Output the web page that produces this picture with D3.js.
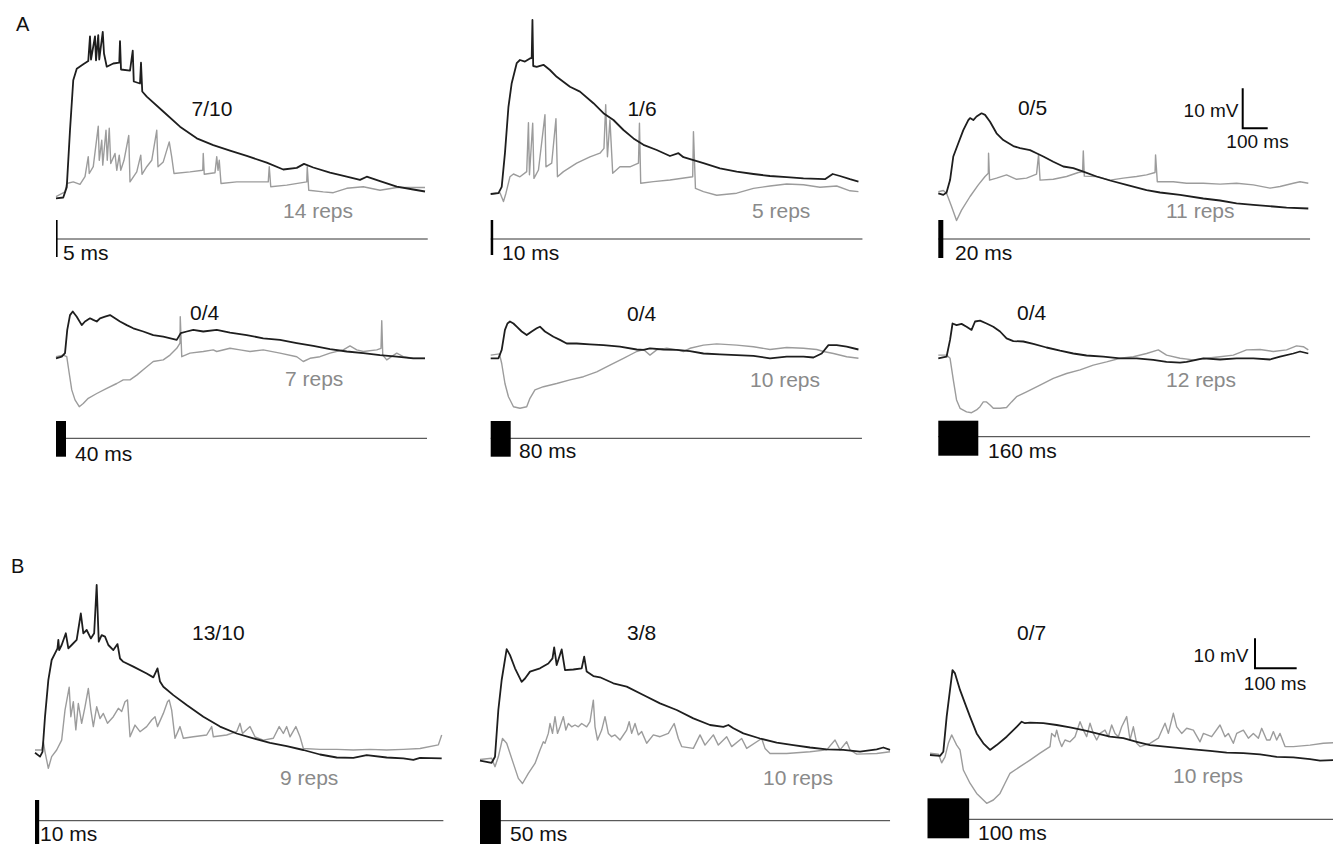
<!DOCTYPE html>
<html>
<head>
<meta charset="utf-8">
<script src="https://cdn.jsdelivr.net/npm/d3@7"></script>
<style>
body { margin: 0; background: #fff; }
svg { display: block; font-family: "Liberation Sans", Arial, Helvetica, sans-serif; }
</style>
</head>
<body>
<div id="container"></div>
<script>
"use strict";

const width = 1333;
const height = 844;

// traces: [time in ms from stimulus onset, mV relative to baseline]
const a1Black = [[0,0],[29,0.2],[43,2.8],[56,17],[69,29.5],[83,32.4],[109,33.5],[129,34.3],[136,40.5],[140,34.7],[156,40.5],[160,34.5],[169,40.8],[173,34.7],[187,41.6],[192,36.2],[203,32.9],[229,33.7],[253,33.9],[256,39.3],[260,32.2],[296,31.9],[307,36.9],[311,29.2],[336,28.7],[340,33.9],[345,26.7],[363,25.4],[429,21.7],[496,17.9],[563,15],[629,13.3],[696,11.9],[763,10.6],[843,8.9],[909,7.2],[963,7.6],[992,8.6],[1029,7.7],[1096,6.4],[1163,5.4],[1216,4.6],[1243,5.4],[1296,4.3],[1363,2.9],[1429,2.2],[1476,1.7]];
const a1Gray = [[0,0.4],[36,1.6],[43,3.7],[69,4.1],[96,3.5],[116,5.4],[129,10.4],[133,6.2],[149,7.9],[169,18],[173,9.5],[183,14.5],[187,8.3],[200,17],[205,9.5],[213,17.5],[219,8.7],[236,11.2],[243,7],[253,10.8],[259,7],[272,9.5],[291,15.7],[296,4.1],[323,6.6],[339,10.8],[344,6],[363,7.9],[383,9.5],[403,17],[408,7.9],[429,9.1],[453,14.1],[463,10.3],[472,6.2],[536,6.6],[587,7],[589,11.2],[593,6],[636,6.4],[643,10.4],[648,7],[653,9.5],[660,3.7],[723,4.1],[849,4.1],[853,7.9],[859,2.9],[923,3.3],[1003,4.1],[1005,7.9],[1011,2],[1069,1.6],[1109,1.4],[1163,2.5],[1229,2.9],[1296,2],[1363,2.7],[1476,2.7]];

const a2Black = [[0,0],[31,0.2],[44,1.8],[57,10.2],[71,21.8],[84,27.7],[104,32.7],[117,33.5],[137,33.1],[157,33.9],[164,34],[167,43.5],[170,32],[184,31.8],[211,32.3],[237,31],[264,29.3],[317,26.8],[357,25.6],[411,22.7],[451,20.2],[491,18.5],[531,16],[571,13.9],[611,12.3],[664,11],[717,9.5],[751,10.2],[771,9.2],[851,7.7],[917,6.4],[984,5.6],[1051,5],[1117,4.5],[1184,4.2],[1251,3.9],[1337,3.7],[1368,5],[1397,4.5],[1437,3.7],[1471,3.1]];
const a2Gray = [[0,0],[37,0.3],[51,-1.9],[61,0.2],[77,4.3],[91,5],[117,4.3],[144,5.6],[151,17.8],[155,4.8],[168,17.7],[173,3.9],[191,6],[217,19.8],[221,6.8],[244,7.7],[261,18.8],[267,4.3],[291,5.6],[344,7.7],[397,9.3],[437,10.2],[453,11.4],[460,22.3],[467,9.3],[477,18.5],[488,5.2],[517,6.8],[557,6.8],[591,7.7],[595,17.7],[600,2.7],[651,3.1],[717,3.5],[808,4.3],[811,15.6],[819,1.4],[851,0.6],[904,-0.3],[984,0.2],[1051,1.4],[1117,2],[1184,2.5],[1251,2.3],[1317,1.7],[1384,2],[1437,0.8],[1471,0.6]];

const a3Black = [[0,0],[20,-0.4],[33,0.2],[47,3.3],[60,9.2],[80,12.5],[100,15.8],[120,18.3],[127,18.8],[140,18.3],[153,19.2],[173,20],[187,19.6],[207,17.9],[233,15],[260,13.3],[300,11.8],[327,11.3],[367,10.8],[393,10],[420,9.2],[460,7.9],[500,6.7],[540,6.3],[580,5.4],[633,4.2],[687,3.2],[753,2.1],[833,0.8],[887,0.2],[967,-0.4],[1060,-1.3],[1127,-1.8],[1193,-2.5],[1260,-2.9],[1340,-3.3],[1393,-3.6],[1480,-3.8]];
const a3Gray = [[0,0.4],[20,0.7],[33,0],[53,-3.3],[73,-6.8],[93,-4.2],[127,-0.8],[160,2.1],[187,4.2],[200,5],[201,10],[205,3.3],[233,3.8],[273,4.6],[313,3.5],[353,3.8],[393,4.8],[401,9.6],[407,3.3],[460,3.5],[513,4.2],[560,5.2],[577,5.4],[580,10.6],[584,4.3],[633,4.2],[687,3.3],[740,3.8],[793,4.2],[833,4.6],[867,5.2],[869,9.6],[876,2.9],[940,2.9],[993,2.5],[1060,2.5],[1127,2.3],[1193,2.5],[1260,2.1],[1327,1.3],[1367,1.7],[1420,2.5],[1447,2.9],[1480,2.5]];

const a4Black = [[0,0],[23,0.4],[36,1.3],[45,7.1],[56,10.8],[67,11.7],[83,10.4],[103,8.3],[116,9.2],[136,10],[149,9.6],[163,9.2],[176,10],[196,10.4],[216,10.8],[236,10],[256,9.2],[283,8.3],[309,7.5],[349,6.7],[389,5.8],[429,5.4],[483,4.6],[499,6.3],[523,6.7],[549,7.1],[589,6.7],[643,7.1],[696,6.4],[763,5.8],[829,5],[896,4.6],[963,3.8],[1029,3.1],[1096,2.3],[1163,1.7],[1229,1.3],[1296,0.8],[1363,0.4],[1429,0],[1476,0]];
const a4Gray = [[0,0.4],[29,0.8],[43,0.4],[53,-3.8],[63,-7.9],[76,-10.4],[93,-12.1],[109,-11.3],[129,-10],[163,-8.8],[203,-7.5],[243,-6.3],[269,-5.4],[296,-5.4],[323,-4.2],[356,-2.5],[389,-0.8],[429,-0.4],[456,0.8],[483,2.5],[496,3.8],[497,10.4],[503,0.4],[536,1.3],[589,1.7],[629,2.1],[643,1.7],[696,2.5],[736,2.1],[776,1.7],[829,2.1],[896,1.3],[963,0.4],[989,-0.8],[1016,0],[1056,0.4],[1096,1.3],[1149,2.1],[1176,3.1],[1203,2.1],[1229,1.7],[1283,2.1],[1300,2.5],[1303,9.4],[1307,0.8],[1323,-0.4],[1363,1.3],[1389,0.4],[1429,0],[1476,0]];

const a5Black = [[0,-0.4],[31,-0.4],[44,1.7],[57,6.7],[67,8.3],[77,8.8],[91,8.3],[104,7.5],[124,6.3],[144,5.4],[164,6.3],[184,7.1],[197,7.5],[217,6.3],[251,5],[277,4.2],[304,3.3],[344,3.3],[397,3.1],[451,2.9],[517,2.5],[584,1.8],[611,1.7],[637,2.1],[691,1.8],[744,1.7],[797,1.4],[851,0.8],[917,0.6],[984,0.4],[1051,0.2],[1117,-0.4],[1184,0],[1251,0],[1291,-0.2],[1324,0.8],[1351,2.9],[1384,2.9],[1424,2.5],[1471,1.8]];
const a5Gray = [[0,0.4],[35,0.7],[44,-1.7],[57,-6.7],[71,-10],[91,-12.5],[117,-12.9],[144,-12.5],[157,-10.4],[177,-8.3],[211,-7.5],[264,-6.7],[317,-5.8],[371,-5],[424,-3.8],[477,-2.1],[531,-0.4],[584,1.3],[611,1.8],[637,0.4],[664,1.7],[704,2.1],[744,1.7],[771,1.3],[797,2.1],[851,2.9],[904,3.2],[984,2.9],[1051,2.5],[1117,1.8],[1184,2.3],[1251,2.1],[1304,1.8],[1331,1.3],[1371,0.8],[1424,0],[1471,-0.4]];

const a6Black = [[0,-0.4],[33,0],[47,4.2],[57,8.3],[73,7.9],[93,8.2],[113,7.5],[133,6.7],[147,8.8],[167,9],[193,8.3],[220,7.5],[247,6.3],[273,4.6],[300,3.9],[340,3.8],[380,3.2],[433,2.3],[487,1.5],[540,0.8],[593,0.3],[660,0],[727,-0.4],[793,-0.4],[860,-0.8],[913,-1.3],[967,-1.5],[993,-1.3],[1060,-0.4],[1127,-0.7],[1193,-0.4],[1260,-0.4],[1327,-0.7],[1367,0],[1420,0.8],[1447,1.3],[1480,0.8]];
const a6Gray = [[0,0.4],[33,0.4],[47,-0.4],[60,-5.8],[73,-10.8],[87,-12.9],[113,-13.8],[133,-14],[153,-13.3],[167,-12.5],[180,-11.3],[193,-11.3],[207,-12.1],[220,-12.9],[247,-12.9],[273,-12.7],[293,-11.3],[313,-10],[353,-8.8],[407,-7.1],[460,-5.4],[513,-4.2],[567,-3.3],[620,-2.1],[673,-1.3],[727,-0.4],[780,0],[833,0.8],[880,1.7],[913,0.4],[967,-0.4],[1020,-0.8],[1073,-0.4],[1127,0],[1180,0.4],[1233,1.7],[1287,1.8],[1340,1.3],[1393,1.7],[1433,2.7],[1460,2.5],[1480,1.7]];

const b1Black = [[0,0],[12,-1.3],[18,0.3],[24,12],[32,24.2],[40,30.9],[48,33.1],[54,34.8],[56,37.6],[58,34.2],[64,35.9],[74,39.8],[80,34.8],[88,35.9],[100,37.6],[110,46.4],[116,39.8],[124,40.9],[134,38.1],[142,39.8],[148,55.9],[153,37],[160,39.2],[168,38.7],[176,35.9],[188,34.2],[198,36.2],[204,31.4],[212,30.3],[236,28.7],[268,26.4],[284,25.1],[294,28.1],[300,23.7],[308,22],[332,19.2],[364,15.9],[404,12],[444,8.7],[484,6.4],[524,4.8],[564,3.3],[604,2.2],[644,0.9],[684,-0.6],[724,-1.6],[764,-1.7],[796,-0.8],[844,-1.6],[884,-1.9],[908,-2.4],[924,-1.7],[976,-1.9]];
const b1Gray = [[0,0.9],[16,0.9],[20,3.7],[24,0.3],[32,-5.2],[40,-1.3],[52,0.9],[64,4.2],[72,14.2],[82,21.8],[86,12],[92,17],[98,7.6],[104,16.4],[112,9.8],[120,15.3],[128,21.4],[134,14.2],[140,8.7],[148,15.3],[156,11.4],[164,13.1],[174,9.8],[188,12],[200,14.8],[208,13.7],[216,17],[222,17.6],[228,5.3],[240,9.2],[252,7],[268,8.7],[280,10.9],[288,12],[294,8.7],[308,13.1],[318,17],[322,17.6],[328,14.2],[336,4.8],[348,8.7],[356,4.8],[380,5.3],[412,5.9],[424,8.7],[428,5.3],[460,5.9],[484,7],[492,9.8],[498,6.4],[516,8.7],[528,5.3],[548,4.2],[572,4.8],[586,8.7],[596,6.4],[604,8.7],[612,5.3],[626,8.7],[636,5.3],[644,1.4],[684,1.1],[724,1.1],[764,0.9],[804,1.1],[844,0.9],[884,1.1],[924,1.4],[968,2.6],[976,5.9]];

const b2Black = [[0,0],[28,-0.7],[36,1.3],[44,16.9],[52,26.9],[64,37.2],[72,35.2],[84,30.8],[100,26.3],[108,27.4],[120,29.7],[144,30.8],[164,32.4],[174,34.1],[178,37.8],[184,31.9],[196,37.1],[204,30.2],[224,30.4],[244,30.8],[250,34.7],[256,29.7],[272,28.2],[288,27.8],[320,25.8],[352,24.7],[392,21.9],[432,19.1],[472,16.9],[512,14.1],[552,11.9],[584,11.3],[596,11.9],[608,10.8],[632,9.1],[672,7.4],[712,6],[752,5.2],[792,4.4],[832,3.8],[872,3.6],[912,3],[952,3.8],[968,4.4],[984,3.6]];
const b2Gray = [[0,0.4],[28,0.8],[36,-2],[44,1.3],[54,7.4],[64,5.8],[80,-0.9],[92,-5.9],[102,-7.6],[116,-4.2],[132,-0.9],[144,3.6],[152,6.3],[156,5.8],[164,9.1],[168,12.4],[174,9.1],[180,14.7],[186,9.1],[192,11.3],[200,14.7],[206,10.2],[212,12.4],[220,11.3],[228,11.9],[236,11.3],[244,12.4],[256,11.3],[264,13],[272,20.2],[276,11.3],[282,6.9],[292,10.2],[300,14.7],[308,9.1],[316,8],[324,8.6],[336,6.9],[352,10.2],[358,13],[364,9.1],[372,12.4],[380,8.6],[388,9.7],[400,5.8],[416,8.6],[432,8],[452,9.1],[466,12.4],[476,7.4],[484,4.7],[512,4.1],[528,8.6],[540,5.2],[560,8.6],[572,5.2],[592,8],[604,4.7],[628,7.4],[640,4.1],[676,7.4],[684,4.1],[696,2.4],[736,2.4],[792,3],[832,3.6],[852,6.9],[864,3.6],[880,6.3],[888,3.6],[904,2.2],[952,2.4],[984,3]];

const b3Black = [[0,0],[24,-0.3],[32,1.1],[40,12.8],[48,21.7],[54,28.3],[60,27.2],[72,21.7],[84,17.2],[96,12.8],[112,7.2],[128,3.9],[144,1.7],[160,3.3],[184,6.1],[208,9.4],[220,11.1],[228,10.6],[240,10.8],[272,10.6],[304,10],[336,9.2],[368,8.3],[400,7.2],[432,6.1],[464,5.6],[496,4.4],[528,3.3],[576,2.6],[632,1.9],[672,1.4],[712,0.8],[752,0.6],[792,0.2],[832,-0.6],[872,-0.8],[912,-1.4],[936,-1.9],[968,-1.7]];
const b3Gray = [[0,0.6],[20,0.3],[28,-2.6],[36,-0.6],[44,3.9],[52,6.7],[58,5],[64,3.3],[72,1.7],[80,-5],[96,-9.4],[112,-12.8],[128,-15],[136,-16.1],[152,-15],[168,-12.8],[180,-9.4],[192,-6.1],[216,-3.9],[240,-1.7],[264,0.6],[288,2.8],[292,7.2],[300,6.1],[304,8.3],[310,5],[316,2.8],[324,5],[336,4.4],[348,6.1],[360,11.1],[368,8.3],[376,6.1],[384,10.6],[392,7.2],[400,5],[408,7.2],[420,8.3],[428,6.1],[436,10],[444,7.2],[452,6.1],[460,9.4],[472,12.8],[480,5],[488,9.4],[496,3.9],[504,2.8],[528,3.9],[548,5.6],[564,10.6],[572,7.2],[584,13.9],[592,9.4],[604,7.2],[616,8.9],[632,8.3],[648,4.4],[656,7.2],[676,6.1],[696,10],[708,6.1],[716,7.2],[728,3.9],[736,7.2],[752,8.3],[764,5.6],[776,7.2],[788,5.6],[796,8.9],[808,5],[816,5],[824,7.8],[832,5],[840,7.2],[852,2.8],[872,2.8],[912,3.3],[944,3.9],[968,4.1]];

const stimDurations = [5, 10, 20, 40, 80, 160, 10, 50, 100];
const spikeCounts = ["7/10", "1/6", "0/5", "0/4", "0/4", "0/4", "13/10", "3/8", "0/7"];
const repCounts = ["14 reps", "5 reps", "11 reps", "7 reps", "10 reps", "12 reps", "9 reps", "10 reps", "10 reps"];
const blackTraces = [a1Black, a2Black, a3Black, a4Black, a5Black, a6Black, b1Black, b2Black, b3Black];
const grayTraces = [a1Gray, a2Gray, a3Gray, a4Gray, a5Gray, a6Gray, b1Gray, b2Gray, b3Gray];
const panelLetters = ["A", "B"];
const scaleMV = 10;
const scaleMS = 100;

// px per ms / px per mV for the two parts of the figure
const scaleA = { ms: 0.25, mv: 4 };
const scaleB = { ms: 0.4167, mv: 3 };

// panel placement (px)
const layout = [
    { s: scaleA, x0: 56,    y0: 198.3, end: 1487, axisY: 239,   stimStart: 0,  stimTop: 220,   stimBot: 257,   count: [212, 116],    reps: [283, 217.5],  stimLabel: [63, 260] },
    { s: scaleA, x0: 490.7, y0: 194,   end: 1487, axisY: 239,   stimStart: 0,  stimTop: 220,   stimBot: 255,   count: [642, 116],    reps: [752, 217.5],  stimLabel: [502, 259.5] },
    { s: scaleA, x0: 938.3, y0: 193.3, end: 1487, axisY: 239,   stimStart: 0,  stimTop: 220,   stimBot: 258,   count: [1032.5, 115], reps: [1166, 218],   stimLabel: [955, 259.5],
      bar: [1242.7, 128.3], mvLabel: [1238.5, 116.5], msLabel: [1257.5, 148] },
    { s: scaleA, x0: 56,    y0: 358.3, end: 1484, axisY: 438.3, stimStart: 0,  stimTop: 421,   stimBot: 456.7, count: [204.7, 320],  reps: [285, 386],    stimLabel: [75, 461] },
    { s: scaleA, x0: 490.7, y0: 356.7, end: 1485, axisY: 438.3, stimStart: 0,  stimTop: 421,   stimBot: 456.7, count: [641.7, 321],  reps: [750, 386.5],  stimLabel: [519, 458] },
    { s: scaleA, x0: 938.3, y0: 356.7, end: 1487, axisY: 436.7, stimStart: 0,  stimTop: 420.7, stimBot: 455.7, count: [1031.7, 320], reps: [1166, 386.5], stimLabel: [988, 458] },
    { s: scaleB, x0: 35,    y0: 752.7, end: 980,  axisY: 820.7, stimStart: 0,  stimTop: 800,   stimBot: 850,   count: [218.3, 640],  reps: [280, 785],    stimLabel: [40, 840.5] },
    { s: scaleB, x0: 480,   y0: 760.7, end: 984,  axisY: 820.7, stimStart: 0,  stimTop: 800,   stimBot: 850,   count: [641.7, 640],  reps: [763, 784.5],  stimLabel: [510, 840.5] },
    { s: scaleB, x0: 930,   y0: 755,   end: 1000, axisY: 819.3, stimStart: -6, stimTop: 798.3, stimBot: 838.3, count: [1031.7, 640], reps: [1173, 783],   stimLabel: [978, 840],
      bar: [1255, 668.3], mvLabel: [1248.5, 662], msLabel: [1275, 690] }
];
const letterPos = [[16, 31], [11, 573]];

const svg = d3.select("#container").append("svg")
    .attr("width", width)
    .attr("height", height);

svg.append("rect").attr("width", width).attr("height", height).attr("fill", "#fff");

function drawPanel(i) {
    const p = layout[i];
    const x = d3.scaleLinear().domain([0, 1]).range([p.x0, p.x0 + p.s.ms]);
    const y = d3.scaleLinear().domain([0, 1]).range([p.y0, p.y0 - p.s.mv]);
    const line = d3.line().x(d => x(d[0])).y(d => y(d[1]));
    const g = svg.append("g");

    // stimulus time line and stimulus bar
    g.append("line")
        .attr("x1", x(0)).attr("x2", x(p.end))
        .attr("y1", p.axisY).attr("y2", p.axisY)
        .attr("stroke", "#333").attr("stroke-width", 1);
    g.append("rect")
        .attr("x", x(p.stimStart))
        .attr("y", p.stimTop)
        .attr("width", Math.max(1.6, x(stimDurations[i]) - x(0)))
        .attr("height", p.stimBot - p.stimTop)
        .attr("fill", "#000");

    // traces: gray under black
    g.append("path").datum(grayTraces[i])
        .attr("d", line)
        .attr("fill", "none")
        .attr("stroke", "#9c9c9c")
        .attr("stroke-width", 1.4)
        .attr("stroke-linejoin", "round");
    g.append("path").datum(blackTraces[i])
        .attr("d", line)
        .attr("fill", "none")
        .attr("stroke", "#1e1e1e")
        .attr("stroke-width", 1.8)
        .attr("stroke-linejoin", "round");

    // labels
    g.append("text").attr("x", p.count[0]).attr("y", p.count[1])
        .attr("text-anchor", "middle").attr("font-size", 21).attr("fill", "#111")
        .text(spikeCounts[i]);
    g.append("text").attr("x", p.reps[0]).attr("y", p.reps[1])
        .attr("font-size", 21).attr("fill", "#8a8a8a")
        .text(repCounts[i]);
    g.append("text").attr("x", p.stimLabel[0]).attr("y", p.stimLabel[1])
        .attr("font-size", 21).attr("fill", "#111")
        .text(stimDurations[i] + " ms");

    // 10 mV / 100 ms scale bar
    if (p.bar) {
        const bx = p.bar[0], by = p.bar[1];
        const w = x(scaleMS) - x(0);
        const h = y(0) - y(scaleMV);
        g.append("path")
            .attr("d", `M${bx},${by - h}V${by}H${bx + w}`)
            .attr("fill", "none").attr("stroke", "#000").attr("stroke-width", 2);
        g.append("text").attr("x", p.mvLabel[0]).attr("y", p.mvLabel[1])
            .attr("text-anchor", "end").attr("font-size", 19).attr("fill", "#111")
            .text(scaleMV + " mV");
        g.append("text").attr("x", p.msLabel[0]).attr("y", p.msLabel[1])
            .attr("text-anchor", "middle").attr("font-size", 19).attr("fill", "#111")
            .text(scaleMS + " ms");
    }
}

d3.range(layout.length).forEach(drawPanel);

svg.selectAll(".letter")
    .data(panelLetters)
    .enter()
    .append("text")
    .attr("class", "letter")
    .attr("x", (d, i) => letterPos[i][0])
    .attr("y", (d, i) => letterPos[i][1])
    .attr("font-size", 20)
    .attr("fill", "#111")
    .text(d => d);
</script>
</body>
</html>
